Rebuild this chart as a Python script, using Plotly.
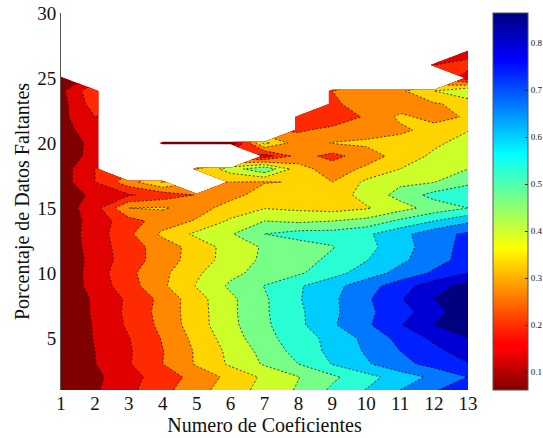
import plotly.graph_objects as go

n = None
coefs = list(range(1, 14))
missing = list(range(1, 31))
r01 = [.070,.122,.175,.232,.288,.342,.390,.437,.501,.552,.610,.663,.718]
r02 = [.070,.116,.168,.219,.272,.327,.381,.428,.478,.529,.578,.624,.671]
r03 = [.070,.128,.185,.250,.317,.380,.437,.490,.553,.602,.652,.690,.727]
r04 = [.070,.130,.183,.248,.318,.386,.450,.513,.566,.617,.670,.715,.757]
r05 = [.076,.134,.188,.255,.329,.401,.471,.521,.569,.626,.689,.742,.790]
r06 = [.073,.136,.200,.267,.344,.414,.479,.536,.602,.659,.726,.790,.844]
r07 = [.076,.140,.204,.273,.344,.417,.482,.539,.597,.655,.708,.761,.838]
r08 = [.076,.140,.201,.268,.347,.417,.482,.545,.598,.660,.724,.790,.844]
r09 = [.082,.155,.224,.300,.374,.441,.492,.543,.590,.645,.702,.766,.814]
r10 = [.082,.158,.236,.296,.361,.414,.452,.481,.527,.579,.630,.680,.730]
r11 = [.082,.152,.221,.280,.338,.397,.441,.469,.502,.547,.597,.647,.694]
r12 = [.085,.158,.223,.278,.336,.395,.437,.462,.487,.531,.586,.641,.692]
r13 = [.094,.157,.238,.323,.383,.424,.490,.514,.514,.539,.592,.646,.682]
r14 = [.091,.154,.226,.277,.316,.379,.430,.418,.430,.448,.502,.550,.598]
r15 = [.094,.166,.310,.316,.286,.334,.367,.358,.346,.364,.406,.454,.490]
r16 = [.100,.142,.184,.214,.253,.292,.334,.334,.340,.391,.451,.511,.508]
r17 = [.100,.190,.286,.376,n,.310,.307,.313,.310,.382,.418,.427,.484]
r18 = [.100,.190,n,n,.310,.400,.478,.334,.280,.322,.370,.394,.430]
r19 = [.100,.148,n,n,n,n,.160,.274,.232,.280,.334,.382,.394]
r20 = [.106,.142,n,.080,.080,.080,.388,.274,.313,.322,.334,.358,.394]
r21 = [.109,.160,n,n,n,n,n,.244,.262,.280,.298,.331,.367]
r22 = [.112,.190,n,n,n,n,n,.208,.220,.256,.322,.292,.316]
r23 = [.106,.220,n,n,n,n,n,n,.226,.310,.280,.304,.328]
r24 = [.115,.238,n,n,n,n,n,n,.250,.262,.298,.370,.430]
r25 = [.070,n,n,n,n,n,n,n,n,n,n,n,.160]
r26 = [n,n,n,n,n,n,n,n,n,n,n,.190,.214]
r27 = [n,n,n,n,n,n,n,n,n,n,n,n,.160]
r28 = [n] * 13
r29 = [n] * 13
r30 = [n] * 13
z_rows = [r01,r02,r03,r04,r05,r06,r07,r08,r09,r10,r11,r12,r13,r14,r15,
          r16,r17,r18,r19,r20,r21,r22,r23,r24,r25,r26,r27,r28,r29,r30]

band_colors = ["#800000","#e00000","#ff2a00","#ff8800","#ffd400","#ccff2a","#78ff88",
               "#2affd4","#00ccff","#0078ff","#0020ff","#0000d4","#000080"]
bar_scale = [[0,"#800000"],[.11,"#ff0000"],[.125,"#ff0000"],[.375,"#ffff00"],[.625,"#00ffff"],
             [.875,"#0000ff"],[1,"#000080"]]
bar_ticks = [.1,.2,.3,.4,.5,.6,.7,.8]
serif = "Liberation Serif"

fig = go.Figure()
fig.add_trace(go.Contour(
    x=coefs, y=missing, z=z_rows, connectgaps=False,
    zauto=False, zmin=.10, zmax=.82,
    colorscale=[[i/12, c] for i, c in enumerate(band_colors)],
    autocontour=False,
    contours=dict(start=.13, end=.79, size=.06, coloring="fill"),
    line=dict(color="black", width=.7, dash="2px,2px", smoothing=0),
    showscale=False, hoverinfo="skip"))
fig.add_trace(go.Scatter(
    x=[1, 1], y=[1, 1], mode="markers", hoverinfo="skip", showlegend=False,
    marker=dict(size=1, opacity=0, color=[.062, .864], cmin=.062, cmax=.864,
                colorscale=bar_scale, showscale=True,
                colorbar=dict(thicknessmode="pixels", thickness=35, lenmode="fraction", len=1,
                              x=1.0614, xanchor="left", xpad=0, y=.5, yanchor="middle", ypad=0,
                              outlinecolor="#555555", outlinewidth=1,
                              ticks="inside", ticklen=3, tickcolor="#222222",
                              tickvals=bar_ticks, ticktext=[str(t) for t in bar_ticks],
                              tickfont=dict(family=serif, size=9, color="#111111")))))
fig.update_layout(
    width=543, height=438, margin=dict(l=61, r=75, t=13, b=48, autoexpand=False, pad=0),
    paper_bgcolor="white", plot_bgcolor="white", showlegend=False,
    font=dict(family=serif, color="#111111"))
fig.update_xaxes(range=[1, 13], tickvals=coefs, ticks="", showgrid=False, zeroline=False,
                 showline=False, tickfont=dict(size=19),
                 title=dict(text="Numero de Coeficientes", font=dict(size=20), standoff=0))
fig.update_yaxes(range=[1, 30], tickvals=[5, 10, 15, 20, 25, 30], ticks="", showgrid=False,
                 zeroline=False, showline=True, linecolor="#555555", linewidth=1,
                 tickfont=dict(size=19),
                 title=dict(text="Porcentaje de Datos Faltantes", font=dict(size=20), standoff=2))
fig.write_html("out.html", config=dict(displayModeBar=False),
               post_script="document.body.style.margin='0';")
